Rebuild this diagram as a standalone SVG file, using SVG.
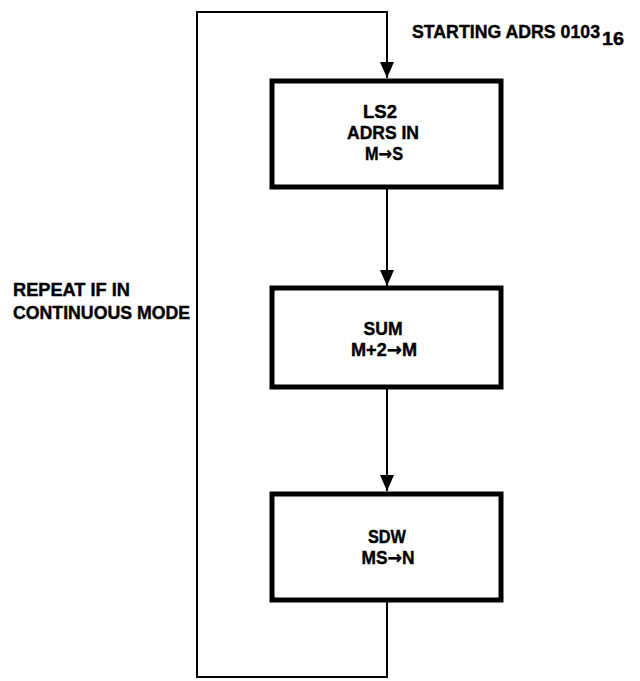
<svg xmlns="http://www.w3.org/2000/svg" width="640" height="681" viewBox="0 0 640 681">
  <style>
    .box { fill: #fff; stroke: #000; stroke-width: 5; }
    .wire { fill: none; stroke: #000; stroke-width: 2; }
    .lbl { font-family: "Liberation Sans", Arial, sans-serif; font-weight: bold; font-size: 18px; fill: #000; stroke: #000; stroke-width: 0.4; }
    .mid { text-anchor: middle; }
    .arr { font-family: "DejaVu Sans", sans-serif; font-size: 18px; }
  </style>
  <defs>
    <marker id="head" markerUnits="userSpaceOnUse" markerWidth="16" markerHeight="14" refX="16" refY="7" orient="auto">
      <path d="M0,0 L16,7 L0,14 Z" fill="#000"/>
    </marker>
  </defs>
  <rect width="640" height="681" fill="#fff"/>

  <g id="connectors">
    <!-- loop back from last step to entry -->
    <path class="wire" d="M387,601 V677 H197 V12 H387 V78" marker-end="url(#head)"/>
    <path class="wire" d="M387,188 V286" marker-end="url(#head)"/>
    <path class="wire" d="M387,388 V491" marker-end="url(#head)"/>
  </g>

  <g id="start-label">
    <text class="lbl" x="412" y="38" textLength="188" lengthAdjust="spacingAndGlyphs">STARTING ADRS 0103</text>
    <text class="lbl" x="602" y="45" textLength="22" lengthAdjust="spacingAndGlyphs">16</text>
  </g>

  <g id="repeat-label">
    <text class="lbl" x="13" y="296" textLength="117" lengthAdjust="spacingAndGlyphs">REPEAT IF IN</text>
    <text class="lbl" x="13" y="319" textLength="177" lengthAdjust="spacingAndGlyphs">CONTINUOUS MODE</text>
  </g>

  <g id="ls2">
    <rect class="box" x="272" y="81" width="229" height="106"/>
    <text class="lbl mid" x="380" y="118" textLength="34" lengthAdjust="spacingAndGlyphs">LS2</text>
    <text class="lbl mid" x="383" y="139" textLength="72" lengthAdjust="spacingAndGlyphs">ADRS IN</text>
    <text class="lbl mid" x="384" y="160" textLength="38" lengthAdjust="spacingAndGlyphs">M<tspan class="arr">→</tspan>S</text>
  </g>

  <g id="sum">
    <rect class="box" x="272" y="288" width="229" height="99"/>
    <text class="lbl mid" x="383" y="335" textLength="39" lengthAdjust="spacingAndGlyphs">SUM</text>
    <text class="lbl mid" x="384" y="356" textLength="66" lengthAdjust="spacingAndGlyphs">M+2<tspan class="arr">→</tspan>M</text>
  </g>

  <g id="sdw">
    <rect class="box" x="272" y="494" width="229" height="106"/>
    <text class="lbl mid" x="387" y="543" textLength="38" lengthAdjust="spacingAndGlyphs">SDW</text>
    <text class="lbl mid" x="388" y="564" textLength="53" lengthAdjust="spacingAndGlyphs">MS<tspan class="arr">→</tspan>N</text>
  </g>
</svg>
